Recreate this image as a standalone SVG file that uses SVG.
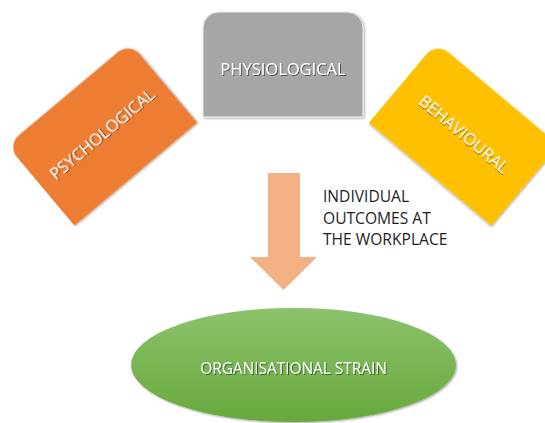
<svg xmlns="http://www.w3.org/2000/svg" width="545" height="423" viewBox="0 0 545 423">
  <defs>
    <style>
      .card-label { font-family: "Open Sans", "Liberation Sans", sans-serif; font-size: 16.5px; fill: #ffffff; text-anchor: middle; }
      .note { font-family: "Open Sans", "Liberation Sans", sans-serif; font-size: 15.6px; fill: #1e1e1e; }
      .shape { filter: url(#shadow); }
      .txt { filter: url(#txtShadow); }
    </style>
    <!-- top-rounded card, 160 x 105, centred on the origin -->
    <path id="card" d="M -80,52.5 L -80,-37 A 15.5,15.5 0 0 1 -64.5,-52.5 L 64.5,-52.5 A 15.5,15.5 0 0 1 80,-37 L 80,52.5 Z"/>
    <linearGradient id="greenFill" x1="0" y1="0" x2="0" y2="1">
      <stop offset="0" stop-color="#8cc36b"/>
      <stop offset="1" stop-color="#67a83c"/>
    </linearGradient>
    <filter id="shadow" x="-20%" y="-20%" width="140%" height="140%">
      <feGaussianBlur in="SourceAlpha" stdDeviation="1.3"/>
      <feOffset dx="0.8" dy="1.4" result="b"/>
      <feComponentTransfer><feFuncA type="linear" slope="0.38"/></feComponentTransfer>
      <feMerge><feMergeNode/><feMergeNode in="SourceGraphic"/></feMerge>
    </filter>
    <filter id="txtShadow" x="-10%" y="-30%" width="120%" height="160%">
      <feGaussianBlur in="SourceAlpha" stdDeviation="0.7"/>
      <feOffset dx="0.6" dy="0.8"/>
      <feComponentTransfer><feFuncA type="linear" slope="0.5"/></feComponentTransfer>
      <feMerge><feMergeNode/><feMergeNode in="SourceGraphic"/></feMerge>
    </filter>
  </defs>

  <rect width="545" height="423" fill="#ffffff"/>

  <g id="psychological" transform="translate(102,134) rotate(-40)">
    <use href="#card" class="shape" fill="#ed7d31"/>
    <text class="card-label txt" x="0" y="6" font-size="17">PSYCHOLOGICAL</text>
  </g>

  <g id="physiological" transform="translate(283,64.5)">
    <use href="#card" class="shape" fill="#a6a6a6" stroke="#f2f2f2" stroke-width="1"/>
    <text class="card-label txt" x="0" y="10.5">PHYSIOLOGICAL</text>
  </g>

  <g id="behavioural" transform="translate(464,134) rotate(40)">
    <use href="#card" class="shape" fill="#ffc000"/>
    <text class="card-label txt" x="0" y="6" font-size="17">BEHAVIOURAL</text>
  </g>

  <g id="connectors">
    <!-- block arrow down to the strain ellipse -->
    <path d="M 268,173 L 300,173 L 300,257 L 317,257 L 283.5,290 L 250,257 L 268,257 Z" fill="#f4b183"/>
    <text class="note" x="323" y="202">INDIVIDUAL</text>
    <text class="note" x="323" y="223.5">OUTCOMES AT</text>
    <text class="note" x="323" y="245">THE WORKPLACE</text>
  </g>

  <g id="organisational-strain">
    <ellipse class="shape" cx="293.5" cy="365" rx="162.5" ry="57" fill="url(#greenFill)"/>
    <text class="txt" x="293.5" y="374" text-anchor="middle" font-family="'Open Sans', 'Liberation Sans', sans-serif" font-size="15.4" fill="#ffffff">ORGANISATIONAL STRAIN</text>
  </g>
</svg>
